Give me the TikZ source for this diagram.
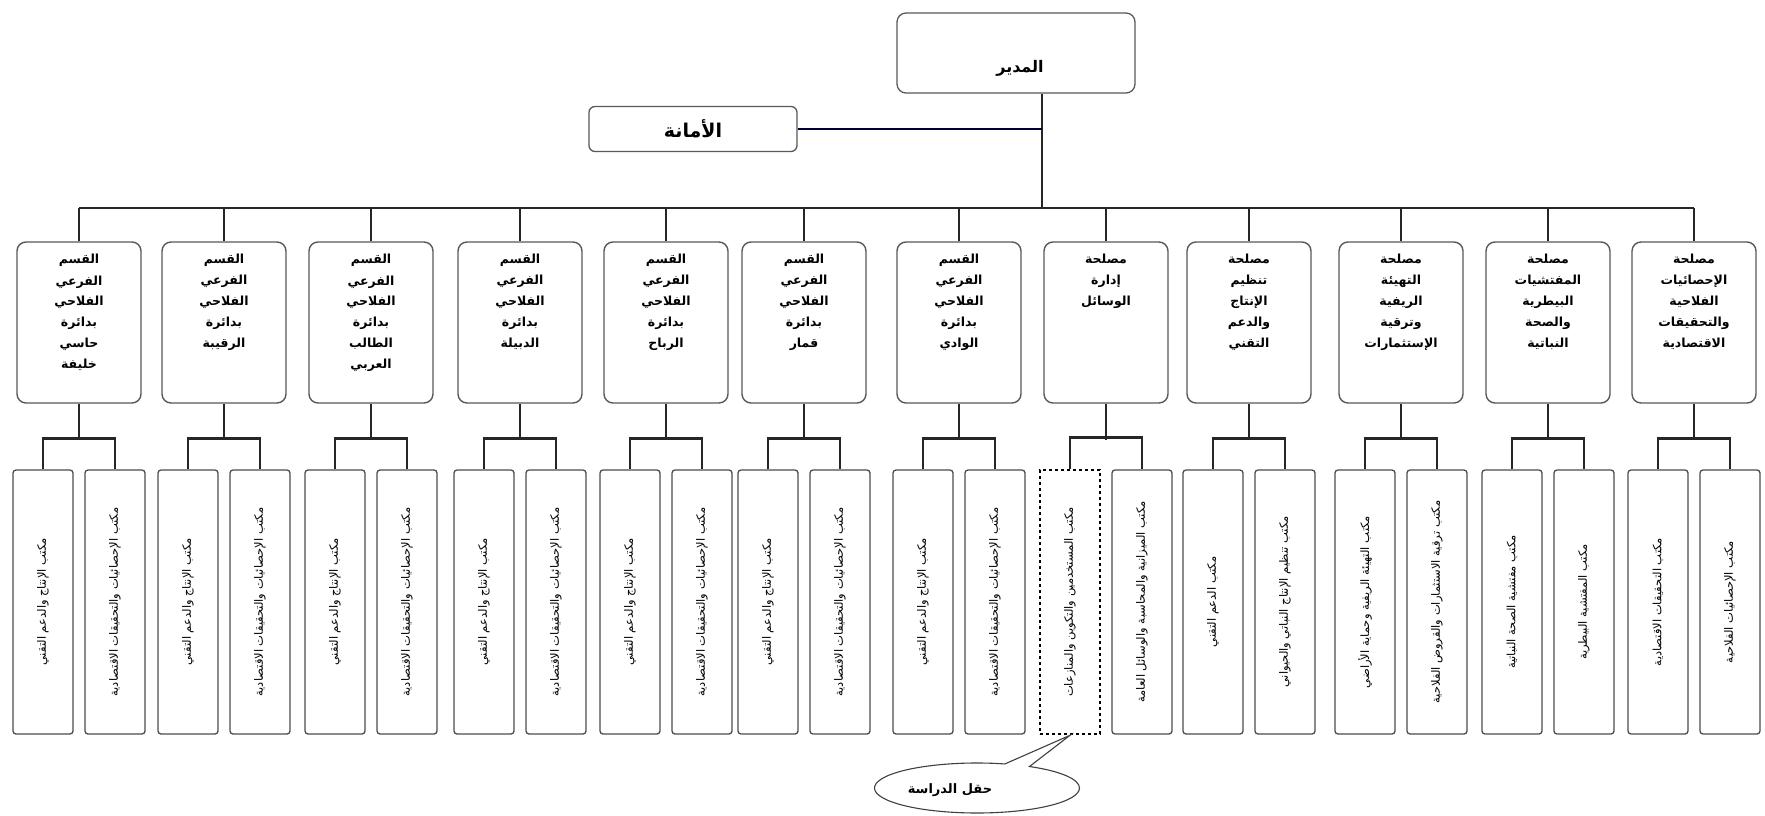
\documentclass[tikz,border=0pt]{standalone}
\usepackage{fontspec}
\usetikzlibrary{calc,shapes.callouts,shapes.geometric}
\newfontfamily\arabicfont[Script=Arabic]{DejaVu Sans}
\TeXXeTstate=1
\newcommand\orgunit[6]{%
  \node[midbox] (p#1) at (#2,322.5) {};
  \node[midtext] (pt#1) at ($(p#1.north)+(0,13)$) {#3};
  \node[#6] (l#1) at (#2-36,602) {};
  \node[leaftext] (lt#1) at (l#1.center) {#4};
  \node[leafbox] (r#1) at (#2+36,602) {};
  \node[leaftext] (rt#1) at (r#1.center) {#5};
  \draw[conn] (p#1.north) -- (p#1.north |- bus);
  \draw[conn] (p#1.south) -- ++(0,36);
  \draw[conn] (l#1.north) -- ++(0,-31) -| (r#1.north);
}
\begin{document}
\begin{tikzpicture}[x=1pt,y=-1pt,
  conn/.style={draw=black!85, line width=2.6pt},
  conn2/.style={draw=black!80!blue, line width=2.6pt},
  topbox/.style={draw=black!65, line width=1.3pt, rounded corners=9pt, fill=white,
    minimum width=238pt, minimum height=80pt, inner sep=0pt},
  toptext/.style={inner sep=0pt, font=\arabicfont\bfseries\fontsize{16}{18}\selectfont},
  amanabox/.style={draw=black!65, line width=1.3pt, rounded corners=6pt, fill=white,
    minimum width=208pt, minimum height=45pt, inner sep=0pt,
    font=\arabicfont\bfseries\fontsize{19}{21}\selectfont},
  midbox/.style={draw=black!65, line width=1.4pt, rounded corners=9pt, fill=white,
    minimum width=124pt, minimum height=161pt, inner sep=0pt},
  midtext/.style={anchor=north, align=center, inner sep=0pt,
    font=\arabicfont\bfseries\fontsize{12.5}{21}\selectfont},
  leafbox/.style={draw=black!70, line width=1.3pt, rounded corners=3pt, fill=white,
    minimum width=60pt, minimum height=264pt, inner sep=0pt},
  leafdot/.style={draw=black, line width=2.6pt, dash pattern=on 2.6pt off 3.4pt,
    minimum width=60pt, minimum height=264pt, inner sep=0pt},
  leaftext/.style={rotate=90, inner sep=0pt, font=\arabicfont\fontsize{11.5}{13}\selectfont},
  fieldstyle/.style={ellipse callout, draw=black!75, line width=1.1pt, fill=white,
    minimum width=205pt, minimum height=50pt, inner sep=0pt},
  fieldtext/.style={inner sep=0pt, font=\arabicfont\bfseries\fontsize{13}{15}\selectfont}
]
\fill[white] (0,0) rectangle (1765,816);
\useasboundingbox (0,0) rectangle (1765,816);
\coordinate (bus) at (1042,208);
\node[topbox] (dir) at (1016,53) {};
\node[toptext] (dirlabel) at (1020,68) {\beginR المدير\endR};
\node[amanabox] (am) at (693,129) {\beginR الأمانة\endR};
\draw[conn] (dir.south -| bus) -- (bus);
\draw[conn2] (am.east) -- (am.east -| bus);

\orgunit{1}{79}{القسم\\الفرعي\\الفلاحي\\بدائرة\\حاسي\\خليفة}{\beginR مكتب الإنتاج والدعم التقني\endR}{\beginR مكتب الإحصائيات والتحقيقات الاقتصادية\endR}{leafbox}
\orgunit{2}{224}{القسم\\الفرعي\\الفلاحي\\بدائرة\\الرقيبة}{\beginR مكتب الإنتاج والدعم التقني\endR}{\beginR مكتب الإحصائيات والتحقيقات الاقتصادية\endR}{leafbox}
\orgunit{3}{371}{القسم\\الفرعي\\الفلاحي\\بدائرة\\الطالب\\العربي}{\beginR مكتب الإنتاج والدعم التقني\endR}{\beginR مكتب الإحصائيات والتحقيقات الاقتصادية\endR}{leafbox}
\orgunit{4}{520}{القسم\\الفرعي\\الفلاحي\\بدائرة\\الدبيلة}{\beginR مكتب الإنتاج والدعم التقني\endR}{\beginR مكتب الإحصائيات والتحقيقات الاقتصادية\endR}{leafbox}
\orgunit{5}{666}{القسم\\الفرعي\\الفلاحي\\بدائرة\\الرباح}{\beginR مكتب الإنتاج والدعم التقني\endR}{\beginR مكتب الإحصائيات والتحقيقات الاقتصادية\endR}{leafbox}
\orgunit{6}{804}{القسم\\الفرعي\\الفلاحي\\بدائرة\\قمار}{\beginR مكتب الإنتاج والدعم التقني\endR}{\beginR مكتب الإحصائيات والتحقيقات الاقتصادية\endR}{leafbox}
\orgunit{7}{959}{القسم\\الفرعي\\الفلاحي\\بدائرة\\الوادي}{\beginR مكتب الإنتاج والدعم التقني\endR}{\beginR مكتب الإحصائيات والتحقيقات الاقتصادية\endR}{leafbox}
\orgunit{8}{1106}{مصلحة\\إدارة\\الوسائل}{\beginR مكتب المستخدمين والتكوين والمنازعات\endR}{\beginR مكتب الميزانية والمحاسبة والوسائل العامة\endR}{leafdot}
\orgunit{9}{1249}{مصلحة\\تنظيم\\الإنتاج\\والدعم\\التقني}{\beginR مكتب الدعم التقني\endR}{\beginR مكتب تنظيم الإنتاج النباتي والحيواني\endR}{leafbox}
\orgunit{10}{1401}{مصلحة\\التهيئة\\الريفية\\وترقية\\الإستثمارات}{\beginR مكتب التهيئة الريفية وحماية الأراضي\endR}{\beginR مكتب ترقية الاستثمارات والقروض الفلاحية\endR}{leafbox}
\orgunit{11}{1548}{مصلحة\\المفتشيات\\البيطرية\\والصحة\\النباتية}{\beginR مكتب مفتشية الصحة النباتية\endR}{\beginR مكتب المفتشية البيطرية\endR}{leafbox}
\orgunit{12}{1694}{مصلحة\\الإحصائيات\\الفلاحية\\والتحقيقات\\الاقتصادية}{\beginR مكتب التحقيقات الاقتصادية\endR}{\beginR مكتب الإحصائيات الفلاحية\endR}{leafbox}

\draw[conn] (p1.north |- bus) -- (p12.north |- bus);

\node[fieldstyle, callout absolute pointer={(l8.south)}] (field) at (977,788) {};
\node[fieldtext] (fieldlabel) at (950,790) {\beginR حقل الدراسة\endR};
\end{tikzpicture}
\end{document}
